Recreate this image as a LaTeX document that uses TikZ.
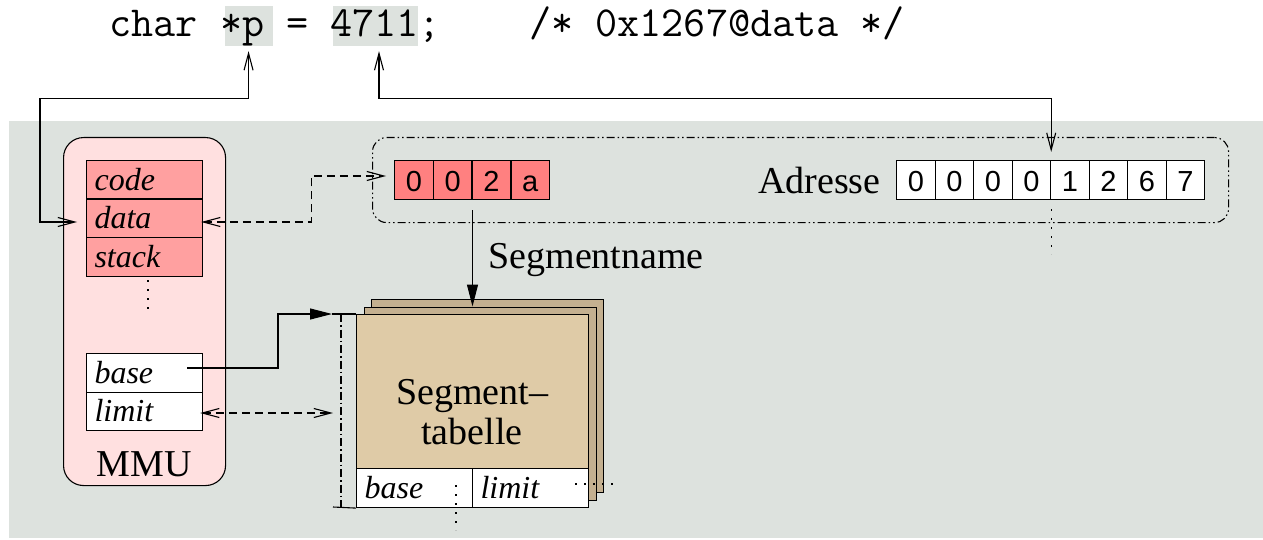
\documentclass[tikz,border=0pt]{standalone}
\usepackage{fontspec}
\setmainfont{Liberation Serif}
\newfontfamily\digitfont{Liberation Sans}
\usetikzlibrary{arrows.meta,positioning}

\definecolor{bggray}{RGB}{221,226,222}
\definecolor{mmupink}{RGB}{255,224,224}
\definecolor{segred}{RGB}{255,160,160}
\definecolor{namered}{RGB}{255,128,128}
\definecolor{tabletan}{RGB}{223,203,167}
\definecolor{sheettan}{RGB}{196,176,144}

\tikzset{every picture/.style={line width=1.1pt}}
\tikzset{
  bigtext/.style={font=\fontsize{38}{40}\selectfont, inner sep=0pt},
  srctext/.style={font=\ttfamily\fontsize{42.9}{44}\selectfont, inner sep=0pt},
  hl/.style={fill=bggray, minimum height=40pt, inner sep=0pt, anchor=north west},
  cell/.style={draw, inner sep=0pt, minimum width=38.6pt, minimum height=39pt, anchor=north west, text height=23pt, text depth=0pt, font=\digitfont\fontsize{29}{31}\selectfont},
  segrow/.style={draw, anchor=north west, minimum height=38.5pt, text width=100pt, inner xsep=8pt, inner ysep=0pt, align=left, text height=26pt, text depth=5pt, font=\itshape\fontsize{32}{36}\selectfont},
  mmubox/.style={draw, fill=mmupink, rounded corners=20pt, inner sep=0pt},
  dashdotbox/.style={draw, rounded corners=14pt, inner sep=0pt, dash pattern=on 8pt off 3pt on 1.5pt off 3pt on 1.5pt off 3pt},
  sheet/.style={draw, minimum width=232pt, minimum height=193pt, inner sep=0pt, anchor=north west},
  barbs/.style={{Straight Barb[length=17pt,width=9pt]}-{Straight Barb[length=17pt,width=9pt]}},
  filltip/.style={-{Triangle[length=22pt,width=11pt]}},
  dashline/.style={dash pattern=on 8pt off 5pt},
  dots/.style={dash pattern=on 2pt off 7pt},
}

\begin{document}
\begin{tikzpicture}[x=1pt,y=1pt,yscale=-1]
\useasboundingbox (0,0) rectangle (1263,540);

%Shape: Rectangle
\fill [bggray] (9,121) rectangle (1263,538);

% Text Node
\node [hl, minimum width=48pt] (ptr) at (224,5) {};
\node [hl, minimum width=85pt] (val) at (332,5) {};
\node [srctext, anchor=base west] (src) at (109,37) {char *p = 4711;\ \ \ \ /* 0x1267@data */};

%Shape: Rounded Rect
\node [mmubox, minimum width=162pt, minimum height=348pt, anchor=north west] (mmu) at (63,137) {};
\foreach \s/\y in {code/160,data/198.5,stack/237}
  \node [segrow, fill=segred] (\s) at (86,\y) {\s};
\node [segrow, fill=white] (mmubase) at (86,353) {base};
\node [segrow, fill=white] (mmulimit) at (86,391.5) {limit};
% Text Node
\node [bigtext] (mmulabel) at (144,464) {MMU};

%Shape: Rounded Rect
\node [dashdotbox, minimum width=856pt, minimum height=85pt, anchor=north west] (addrframe) at (372,137) {};
\foreach \d [count=\i] in {0,0,2,a}
  \node [cell, fill=namered] (n\i) at ({394+(\i-1)*38.8},160) {\d};
\foreach \d [count=\i] in {0,0,0,0,1,2,6,7}
  \node [cell, fill=white] (a\i) at ({896+(\i-1)*38.5},160) {\d};
% Text Node
\node [bigtext, left=15pt of a1] (addrlabel) {Adresse};

%Shape: Segment table
\node [sheet, fill=sheettan] (sheetc) at (371,299) {};
\node [sheet, fill=sheettan] (sheetb) at (363.5,306.5) {};
\node [sheet, fill=tabletan] (sheeta) at (356,314) {};
\node [segrow, fill=white] (tbase) at (356,468) {base};
\node [segrow, fill=white] (tlimit) at (472,468) {limit};
% Text Node
\node [bigtext, align=center] (tlabel) at (472,412) {Segment--\\tabelle};
% Text Node
\node [bigtext, anchor=base west] (segname) at (488,268) {Segmentname};

%Straight Lines
\coordinate (dimtop) at (332,314);
\coordinate (dimbot) at (333,507);
\coordinate (dimmid) at (341,413);
\coordinate (basestart) at (187,368);
\draw (dimtop) -- (sheeta.north west);
\draw (dimbot) -- (sheeta.south west);
\draw [dash pattern=on 8pt off 3pt on 1.5pt off 3pt] (dimtop -| dimmid) -- (dimbot -| dimmid);

%Straight Lines
\draw [barbs, shorten <=5pt, shorten >=9pt] (ptr.south) -- ++(0,52) -| (40,222) -- (data.west |- 0,222);
\draw [barbs, shorten <=5pt, shorten >=8pt] (val.south -| 379,0) -- ++(0,52) -| (a4.north east);
\draw [barbs, dashline, shorten <=-2pt, shorten >=8pt] (data.east |- 0,222) -- ++(108,0) |- (n1.west |- 0,176);
\draw [filltip, shorten <=10pt] (n2.south east) -- (n2.south east |- sheetb.north);
\draw [filltip] (basestart) -- (278,368) |- (dimtop);
\draw [barbs, dashline, shorten <=-3pt, shorten >=8pt] (mmulimit.east |- dimmid) -- (dimmid);

%Dotted Lines
\draw [dots] (148,280) -- (148,312);
\draw [dots] (a4.south east) ++(0,9) -- ++(0,45);
\draw [dots] (456,485) -- (456,530);
\draw [dots] (575,484) -- (618,484);

\end{tikzpicture}
\end{document}
